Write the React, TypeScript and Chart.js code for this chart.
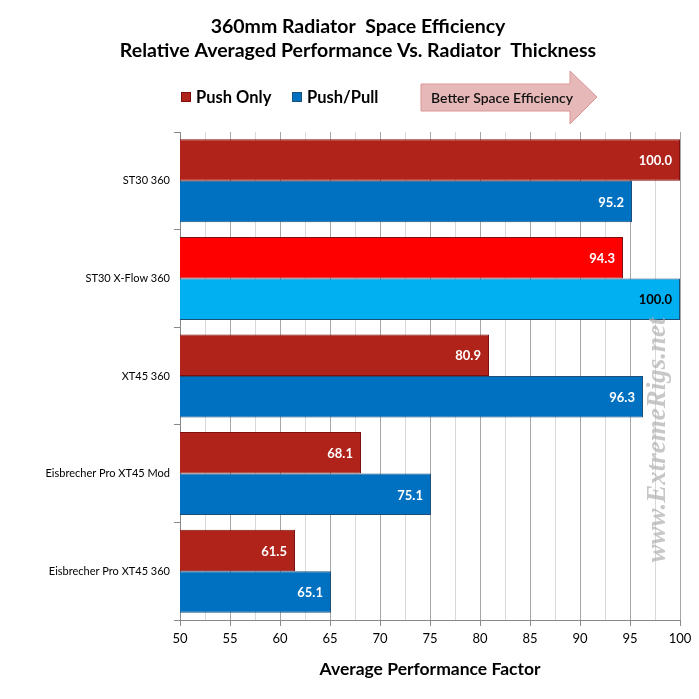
import { useEffect, useRef } from 'react'
import { Chart, ChartConfiguration, registerables } from 'chart.js'

// Register Chart.js components
Chart.register(...registerables)

const categories = [
  'ST30 360',
  'ST30 X-Flow 360',
  'XT45 360',
  'Eisbrecher Pro XT45 Mod',
  'Eisbrecher Pro XT45 360',
]
const pushOnly = [100.0, 94.3, 80.9, 68.1, 61.5]
const pushPull = [95.2, 100.0, 96.3, 75.1, 65.1]

const pushOnlyColors = ['#B0231A', '#FF0000', '#B0231A', '#B0231A', '#B0231A']
const pushPullColors = ['#0070C0', '#00B0F0', '#0070C0', '#0070C0', '#0070C0']
const pushOnlyLabelColors = ['#FFFFFF', '#FFFFFF', '#FFFFFF', '#FFFFFF', '#FFFFFF']
const pushPullLabelColors = ['#FFFFFF', '#000000', '#FFFFFF', '#FFFFFF', '#FFFFFF']

const titleLines = [
  '360mm Radiator  Space Efficiency',
  'Relative Averaged Performance Vs. Radiator  Thickness',
]

const xMin = 50
const xMax = 100
const xStep = 2.5

const FONT = 'Lato, "Open Sans", sans-serif'

export default function App() {
  const canvasRef = useRef<HTMLCanvasElement>(null)
  const chartRef = useRef<Chart | null>(null)

  useEffect(() => {
    document.body.style.margin = '0'
    if (!canvasRef.current) return

    if (chartRef.current) {
      chartRef.current.destroy()
    }

    const ctx = canvasRef.current.getContext('2d')
    if (!ctx) return

    const config: ChartConfiguration = {
      type: 'bar',
      data: {
        labels: categories,
        datasets: [
          {
            label: 'Push Only',
            data: pushOnly,
            backgroundColor: pushOnlyColors,
            borderColor: '#7F1010',
            borderWidth: 1,
            categoryPercentage: 0.85,
            barPercentage: 1.0,
          },
          {
            label: 'Push/Pull',
            data: pushPull,
            backgroundColor: pushPullColors,
            borderColor: '#1F4E79',
            borderWidth: 1,
            categoryPercentage: 0.85,
            barPercentage: 1.0,
          },
        ],
      },
      options: {
        indexAxis: 'y',
        responsive: false,
        animation: false,
        devicePixelRatio: 1,
        layout: {
          padding: { left: 0, right: 19, top: 132, bottom: 0 },
        },
        plugins: {
          legend: { display: false },
          tooltip: { enabled: false },
          title: { display: false },
        },
        scales: {
          x: {
            type: 'linear',
            min: xMin,
            max: xMax,
            afterFit: (scale: any) => {
              scale.height = 79
            },
            ticks: {
              stepSize: xStep,
              autoSkip: false,
              maxRotation: 0,
              color: '#000',
              font: { family: FONT, size: 13 },
              padding: 5,
              callback: (value: any) => (Number(value) % 5 === 0 ? String(value) : ''),
            },
            grid: {
              color: (c: any) => (c.tick && c.tick.value % 5 === 0 ? '#A6A6A6' : '#D9D9D9'),
              tickColor: (c: any) => (c.tick && c.tick.value % 5 === 0 ? '#888888' : 'rgba(0,0,0,0)'),
              tickLength: 6,
            },
            border: { color: '#888888' },
            title: {
              display: true,
              text: 'Average Performance Factor',
              color: '#000',
              font: { family: FONT, size: 17.5, weight: 'bold' },
              padding: { top: 0, bottom: 19 },
            },
          },
          y: {
            type: 'category',
            offset: true,
            afterFit: (scale: any) => {
              scale.width = 180
            },
            ticks: {
              color: '#000',
              font: { family: FONT, size: 11 },
              padding: 4,
            },
            grid: {
              offset: true,
              drawOnChartArea: false,
              tickLength: 6,
              tickColor: '#888888',
            },
            border: { color: '#888888' },
          },
        },
      },
      plugins: [
        {
          id: 'barLabels',
          afterDatasetsDraw(chart: any) {
            const c = chart.ctx
            c.save()
            c.font = `bold 13px ${FONT}`
            c.textAlign = 'right'
            c.textBaseline = 'middle'
            chart.data.datasets.forEach((ds: any, di: number) => {
              const meta = chart.getDatasetMeta(di)
              const colors = di === 0 ? pushOnlyLabelColors : pushPullLabelColors
              meta.data.forEach((el: any, i: number) => {
                c.fillStyle = colors[i]
                c.fillText(Number(ds.data[i]).toFixed(1), el.x - 8, el.y + 1)
              })
            })
            c.restore()
          },
        },
        {
          id: 'watermark',
          afterDatasetsDraw(chart: any) {
            const c = chart.ctx
            c.save()
            c.translate(658, 440)
            c.rotate(-Math.PI / 2)
            c.font = `italic bold 27px "Liberation Serif", "DejaVu Serif", serif`
            c.fillStyle = 'rgba(175,175,175,0.7)'
            c.textAlign = 'center'
            c.textBaseline = 'middle'
            c.fillText('www.ExtremeRigs.net', 0, 0)
            c.restore()
          },
        },
        {
          id: 'titleLegendArrow',
          afterDraw(chart: any) {
            const c = chart.ctx
            c.save()

            // two-line title
            c.font = `bold 19.5px ${FONT}`
            c.fillStyle = '#000'
            c.textAlign = 'center'
            c.textBaseline = 'middle'
            titleLines.forEach((line, i) => {
              c.fillText(line, 358, 27 + i * 24)
            })

            const items = [
              { text: chart.data.datasets[0].label, color: pushOnlyColors[0], border: '#7F1010', x: 181 },
              { text: chart.data.datasets[1].label, color: pushPullColors[0], border: '#1F4E79', x: 292 },
            ]
            c.font = `bold 16.5px ${FONT}`
            c.textAlign = 'left'
            items.forEach((it) => {
              c.fillStyle = it.color
              c.fillRect(it.x, 92, 10, 10)
              c.strokeStyle = it.border
              c.lineWidth = 1
              c.strokeRect(it.x + 0.5, 92.5, 9, 9)
              c.fillStyle = '#000'
              c.fillText(it.text, it.x + 15, 98)
            })

            // arrow shape
            c.beginPath()
            c.moveTo(421, 84)
            c.lineTo(570, 84)
            c.lineTo(570, 71)
            c.lineTo(597, 97)
            c.lineTo(570, 124)
            c.lineTo(570, 111)
            c.lineTo(421, 111)
            c.closePath()
            c.fillStyle = '#E6B9B8'
            c.fill()
            c.strokeStyle = '#D99694'
            c.lineWidth = 1
            c.stroke()

            c.font = `600 14px ${FONT}`
            c.fillStyle = '#111'
            c.fillText('Better Space Efficiency', 431, 98)
            c.restore()
          },
        },
      ],
    }

    chartRef.current = new Chart(ctx, config)

    return () => {
      if (chartRef.current) {
        chartRef.current.destroy()
        chartRef.current = null
      }
    }
  }, [])

  return (
    <div style={{ width: 699, height: 699, background: '#fff' }}>
      <canvas ref={canvasRef} width={699} height={699} />
    </div>
  )
}
